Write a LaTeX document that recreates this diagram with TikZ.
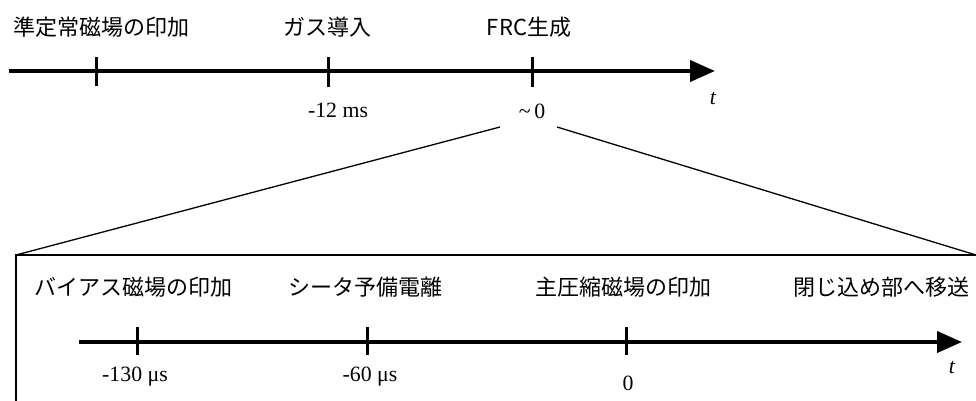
\documentclass[tikz,border=0pt]{standalone}
\usepackage{fontspec}
\setmainfont{Liberation Serif}
\newfontfamily\cjk{Noto Sans CJK JP}
\usetikzlibrary{arrows.meta}
\begin{document}
\begin{tikzpicture}[x=1pt,y=-1pt,
  axis/.style={line width=4pt,-{Triangle[length=25pt,width=21pt]}},
  tick/.style={line width=3pt},
  jlabel/.style={font=\cjk\fontsize{22}{26}\selectfont,inner sep=0pt},
  vlabel/.style={font=\fontsize{21.8}{26}\selectfont,inner sep=0pt},
  zoomline/.style={line width=1.3pt},
  frame/.style={line width=1.5pt}]
\useasboundingbox (0,0) rectangle (976,401);
% top axis
\coordinate (ta) at (9,71);
\coordinate (tb) at (715,71);
\draw[axis] (ta) -- (tb);
\coordinate (t1a) at (96,57); \coordinate (t1b) at (96,86);
\coordinate (t2a) at (328,57); \coordinate (t2b) at (328,87);
\coordinate (t3a) at (532,57); \coordinate (t3b) at (532,87);
\draw[tick] (t1a) -- (t1b);
\draw[tick] (t2a) -- (t2b);
\draw[tick] (t3a) -- (t3b);
\node[jlabel] (l1) at (101,27) {準定常磁場の印加};
\node[jlabel] (l2) at (327,27) {ガス導入};
\node[jlabel] (l3) at (529,27) {FRC生成};
\node[vlabel] (v1) at (338,110) {-12 ms};
\node[vlabel] (v2) at (532,111) {\textasciitilde\,0};
\node[vlabel] (tt) at (713,98) {\textit{t}};
% zoom lines
\coordinate (za) at (500,127);
\coordinate (zb) at (557,127);
\coordinate (bl) at (16,255);
\coordinate (br) at (976,255);
\coordinate (bb) at (16,405);
\draw[zoomline] (za) -- (bl);
\draw[zoomline] (zb) -- (br);
\draw[frame] (br) -- (bl) -- (bb);
% bottom axis
\coordinate (ba) at (79,342);
\coordinate (bz) at (962,342);
\draw[axis] (ba) -- (bz);
\coordinate (s1a) at (137,327); \coordinate (s1b) at (137,355);
\coordinate (s2a) at (367,327); \coordinate (s2b) at (367,355);
\coordinate (s3a) at (626,327); \coordinate (s3b) at (626,355);
\draw[tick] (s1a) -- (s1b);
\draw[tick] (s2a) -- (s2b);
\draw[tick] (s3a) -- (s3b);
\node[jlabel] (m1) at (133,287) {バイアス磁場の印加};
\node[jlabel] (m2) at (365,287) {シータ予備電離};
\node[jlabel] (m3) at (623,287) {主圧縮磁場の印加};
\node[jlabel] (m4) at (881,287) {閉じ込め部へ移送};
\node[vlabel] (w1) at (135,377) {-130 μs};
\node[vlabel] (w2) at (370,377) {-60 μs};
\node[vlabel] (w3) at (628,383) {0};
\node[vlabel] (ut) at (952,367) {\textit{t}};
\end{tikzpicture}
\end{document}
